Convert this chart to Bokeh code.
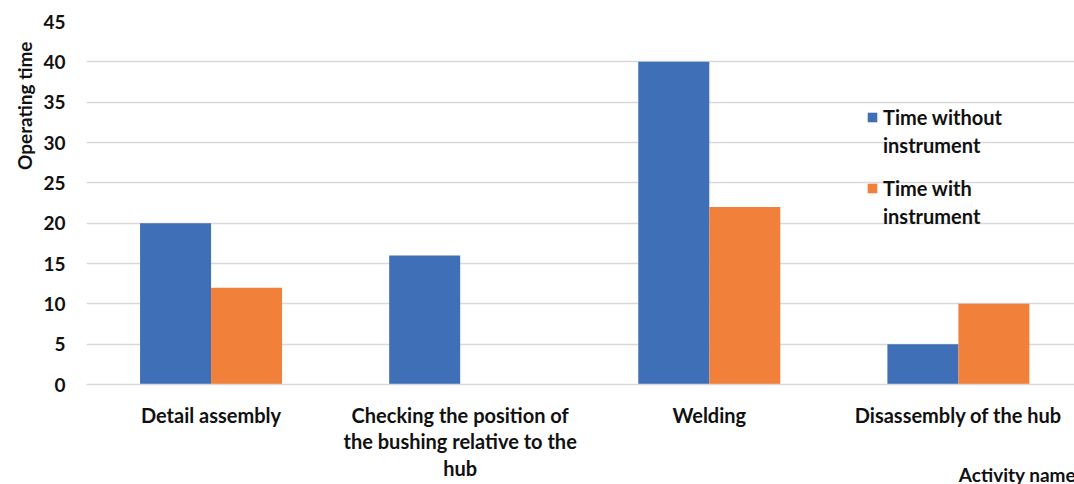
from bokeh.plotting import figure
from bokeh.models import (ColumnDataSource, Range1d, FixedTicker, Legend, LegendItem, Title)
from bokeh.transform import dodge
from bokeh.embed import file_html
from bokeh.resources import INLINE

categories = ["Detail assembly",
              "Checking the position of\nthe bushing relative to the\nhub",
              "Welding",
              "Disassembly of the hub"]
time_without = [20, 16, 40, 5]
time_with = [12, 0, 22, 10]
series_lines = [["Time without", "instrument"], ["Time with", "instrument"]]
y_ticks = [0, 5, 10, 15, 20, 25, 30, 35, 40, 45]
x_title = "Activity name"

BLUE = "#3E6FB7"
ORANGE = "#F0803A"
GRID = "#d9d9d9"
FONT = "Lato"
TXT = "#111111"

src = ColumnDataSource(dict(x=list(range(len(categories))), a=time_without, b=time_with))

p = figure(frame_width=988, frame_height=363, output_backend="svg", toolbar_location=None,
           x_range=Range1d(-0.5, 3.466), y_range=Range1d(0, 45),
           min_border_left=86, min_border_right=0, min_border_top=21, min_border_bottom=100)
p.outline_line_color = None
p.background_fill_color = "white"
p.border_fill_color = "white"

bw = 0.285
r1 = p.vbar(x=dodge("x", -bw / 2, range=p.x_range), top="a", width=bw, source=src,
            fill_color=BLUE, line_color=None)
r2 = p.vbar(x=dodge("x", bw / 2, range=p.x_range), top="b", width=bw, source=src,
            fill_color=ORANGE, line_color=None)
# invisible renderer used only for the second line of each legend entry
blank = p.vbar(x=[], top=[], width=bw, fill_alpha=0, line_alpha=0)

# axes
p.xaxis.ticker = FixedTicker(ticks=list(range(len(categories))))
p.xaxis.major_label_overrides = {i: c for i, c in enumerate(categories)}
p.xaxis.major_tick_line_color = None
p.xaxis.minor_tick_line_color = None
p.xaxis.axis_line_color = GRID
p.xaxis.axis_line_width = 1.5
p.xaxis.major_label_text_font = FONT
p.xaxis.major_label_text_font_style = "bold"
p.xaxis.major_label_text_font_size = "20px"
p.xaxis.major_label_text_line_height = 1.12
p.xaxis.major_label_text_color = TXT
p.xaxis.major_label_standoff = 12
# axis title centred on the frame's right end; trailing em spaces shift the visible text left
p.xaxis.axis_label = x_title + "\u2003" * 8
p.xaxis.axis_label_align = "end"
p.xaxis.axis_label_standoff = -20
p.xaxis.axis_label_text_font = FONT
p.xaxis.axis_label_text_font_style = "bold"
p.xaxis.axis_label_text_font_size = "19px"
p.xaxis.axis_label_text_color = TXT
p.xgrid.grid_line_color = None

p.yaxis.ticker = FixedTicker(ticks=y_ticks)
p.yaxis.major_tick_line_color = None
p.yaxis.minor_tick_line_color = None
p.yaxis.axis_line_color = None
p.yaxis.major_label_text_font = FONT
p.yaxis.major_label_text_font_style = "bold"
p.yaxis.major_label_text_font_size = "19px"
p.yaxis.major_label_text_color = TXT
p.yaxis.major_label_standoff = 15
p.ygrid.grid_line_color = GRID
p.ygrid.grid_line_width = 1.5

p.add_layout(Title(text="Operating time", align="right", text_font=FONT,
                   text_font_style="bold", text_font_size="19px", text_color=TXT,
                   offset=20), "left")

common = dict(padding=0, margin=0, spacing=0, border_line_color=None, background_fill_alpha=0,
              glyph_width=12, glyph_height=12, label_standoff=5, label_height=28,
              label_text_font=FONT, label_text_font_style="bold",
              label_text_font_size="20px", label_text_color=TXT, label_text_baseline="middle")
leg_a = Legend(items=[LegendItem(label=series_lines[0][0], renderers=[r1]),
                      LegendItem(label=series_lines[0][1], renderers=[blank])],
               location=(780, 225), **common)
leg_b = Legend(items=[LegendItem(label=series_lines[1][0], renderers=[r2]),
                      LegendItem(label=series_lines[1][1], renderers=[blank])],
               location=(780, 154), **common)
p.add_layout(leg_a)
p.add_layout(leg_b)

open("out.html", "w").write(file_html(p, INLINE))
